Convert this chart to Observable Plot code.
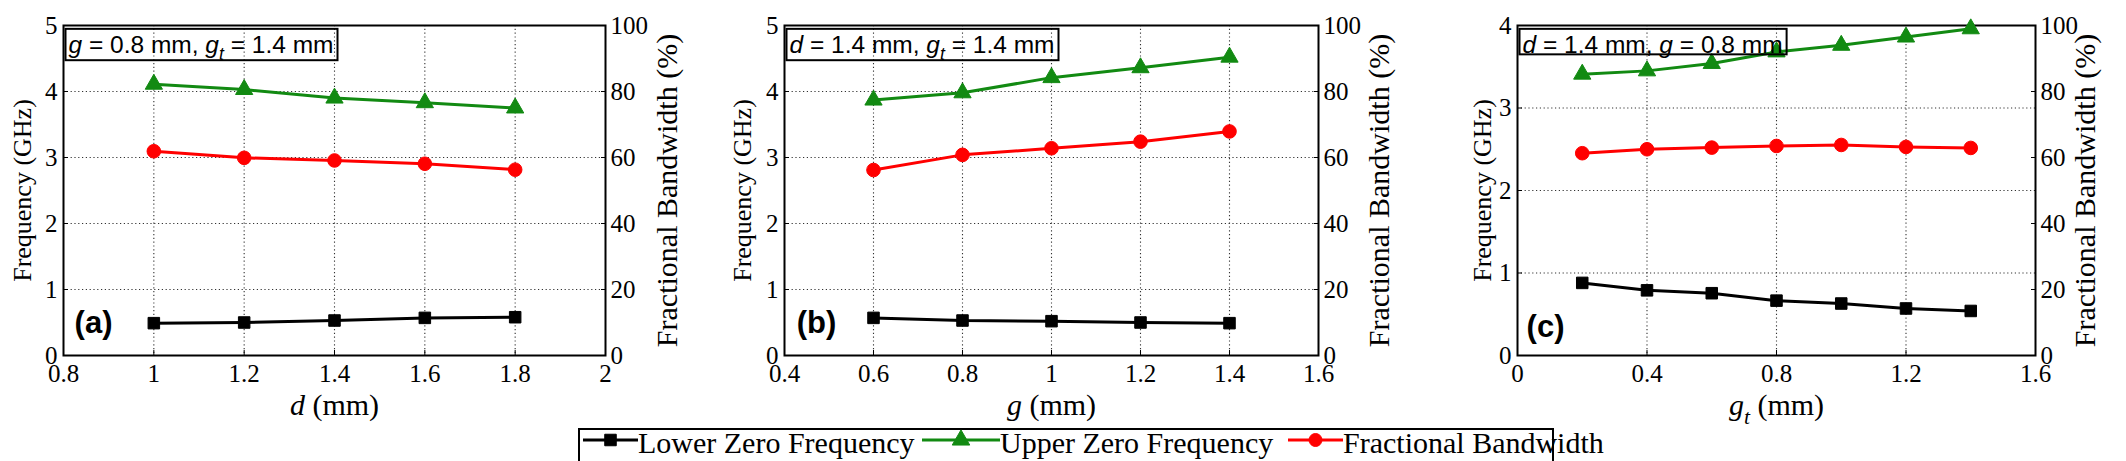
<!DOCTYPE html>
<html>
<head>
<meta charset="utf-8">
<script src="https://cdn.jsdelivr.net/npm/d3@7"></script>
<script src="https://cdn.jsdelivr.net/npm/@observablehq/plot@0.6"></script>
<style>
  html, body { margin: 0; padding: 0; background: #fff; }
  #fig { position: relative; width: 2126px; height: 461px; overflow: hidden; background: #fff; }
  #fig svg { position: absolute; top: 0; max-width: none; }
</style>
</head>
<body>
<div id="fig"></div>
<script>
// ---- Parameter sweeps: lower/upper transmission-zero frequency (GHz) and fractional bandwidth (%) ----

// (a) sweep of d, with g = 0.8 mm, gt = 1.4 mm
const dValues = [1.0, 1.2, 1.4, 1.6, 1.8];
const dLower  = [0.49, 0.50, 0.53, 0.57, 0.58];
const dUpper  = [4.11, 4.03, 3.90, 3.83, 3.75];
const dFbw    = [61.9, 59.9, 59.1, 58.1, 56.3];

// (b) sweep of g, with d = 1.4 mm, gt = 1.4 mm
const gValues = [0.6, 0.8, 1.0, 1.2, 1.4];
const gLower  = [0.57, 0.53, 0.52, 0.50, 0.49];
const gUpper  = [3.87, 3.98, 4.21, 4.36, 4.52];
const gFbw    = [56.2, 60.8, 62.8, 64.8, 67.9];

// (c) sweep of gt, with d = 1.4 mm, g = 0.8 mm
const gtValues = [0.2, 0.4, 0.6, 0.8, 1.0, 1.2, 1.4];
const gtLower  = [0.88, 0.79, 0.755, 0.665, 0.63, 0.57, 0.54];
const gtUpper  = [3.41, 3.45, 3.54, 3.68, 3.76, 3.86, 3.96];
const gtFbw    = [61.3, 62.5, 63.0, 63.5, 63.8, 63.2, 62.9];

// tick labels
const xTicksA = [0.8, 1, 1.2, 1.4, 1.6, 1.8, 2];
const xTicksB = [0.4, 0.6, 0.8, 1, 1.2, 1.4, 1.6];
const xTicksC = [0, 0.4, 0.8, 1.2, 1.6];
const freqTicks5 = [0, 1, 2, 3, 4, 5];
const freqTicks4 = [0, 1, 2, 3, 4];
const fbwTicks = [0, 20, 40, 60, 80, 100];

const seriesNames = ["Lower Zero Frequency", "Upper Zero Frequency", "Fractional Bandwidth"];
const leftTitle = "Frequency (GHz)";
const rightTitle = "Fractional Bandwidth (%)";

// ---- styling ----
const SERIF = "'Liberation Serif', 'Times New Roman', serif";
const SANS = "'Liberation Sans', Arial, sans-serif";
const BLACK = "#000000", GREEN = "#128a12", RED = "#ff0000";
const H = 428;

// segments of mixed-style text: i = italic, sub = subscript
const noteA = [{t: "g", i: 1}, {t: " = 0.8 mm, "}, {t: "g", i: 1}, {t: "t", i: 1, sub: 1}, {t: " = 1.4 mm"}];
const noteB = [{t: "d", i: 1}, {t: " = 1.4 mm, "}, {t: "g", i: 1}, {t: "t", i: 1, sub: 1}, {t: " = 1.4 mm"}];
const noteC = [{t: "d", i: 1}, {t: " = 1.4 mm, "}, {t: "g", i: 1}, {t: " = 0.8 mm"}];
const xTitleA = [{t: "d", i: 1}, {t: " (mm)"}];
const xTitleB = [{t: "g", i: 1}, {t: " (mm)"}];
const xTitleC = [{t: "g", i: 1}, {t: "t", i: 1, sub: 1}, {t: " (mm)"}];

const plain = segs => segs.map(s => s.t).join("");

// replace a plain text node with italic / subscript tspans
function applyRich(svg, segs, fontSize) {
  const el = [...svg.querySelectorAll("text")].find(t => t.textContent === plain(segs));
  if (!el) return null;
  el.textContent = "";
  const shift = fontSize * 0.28;
  let down = false;
  for (const s of segs) {
    const ts = document.createElementNS("http://www.w3.org/2000/svg", "tspan");
    ts.textContent = s.t;
    if (s.i) ts.setAttribute("font-style", "italic");
    if (s.sub) {
      ts.setAttribute("font-size", (fontSize * 0.72).toFixed(1));
      if (!down) { ts.setAttribute("dy", shift); down = true; }
    } else if (down) {
      ts.setAttribute("dy", -shift); down = false;
    }
    el.appendChild(ts);
  }
  return el;
}

const fig = document.getElementById("fig");

function panel(cfg) {
  const rows = cfg.x.map((x, i) => ({x, lower: cfg.lower[i], upper: cfg.upper[i], fbw: cfg.fbw[i]}));
  const yMax = cfg.yTicks[cfg.yTicks.length - 1];
  const pctToY = p => p * yMax / 100;   // right axis spans 0–100 % over the same height
  const fbwY = d => pctToY(d.fbw);
  const xt = cfg.xTicks;

  const svg = Plot.plot({
    width: cfg.width,
    height: H,
    marginLeft: cfg.ml,
    marginRight: cfg.mr,
    marginTop: 25,
    marginBottom: H - 355,
    style: {fontFamily: SERIF, fontSize: "25px", color: "#000", background: "#fff", overflow: "visible"},
    x: {domain: [xt[0], xt[xt.length - 1]]},
    y: {domain: [0, yMax]},
    marks: [
      Plot.gridX(xt.slice(1, -1), {stroke: "#333", strokeOpacity: 1, strokeWidth: 1.1, strokeDasharray: "1.2,2.6"}),
      Plot.gridY(cfg.yTicks.slice(1, -1), {stroke: "#333", strokeOpacity: 1, strokeWidth: 1.1, strokeDasharray: "1.2,2.6"}),
      Plot.axisX(xt, {anchor: "bottom", tickSize: -5, tickPadding: 14, label: null, fontSize: 25, tickFormat: d => String(d)}),
      Plot.axisY(cfg.yTicks, {anchor: "left", tickSize: -5, tickPadding: 11, label: null, fontSize: 25, tickFormat: d => String(d)}),
      Plot.axisY(fbwTicks.map(pctToY), {anchor: "right", tickSize: -5, tickPadding: 10, label: null, fontSize: 25,
        tickFormat: v => String(Math.round(v * 100 / yMax))}),
      Plot.frame({stroke: "#000", strokeWidth: 2}),
      // lower zero
      Plot.line(rows, {x: "x", y: "lower", stroke: BLACK, strokeWidth: 3}),
      Plot.dot(rows, {x: "x", y: "lower", symbol: "square", r: 6.5, fill: BLACK, stroke: BLACK, strokeWidth: 1}),
      // upper zero
      Plot.line(rows, {x: "x", y: "upper", stroke: GREEN, strokeWidth: 3}),
      Plot.dot(rows, {x: "x", y: "upper", symbol: "triangle", r: 6.4, fill: GREEN, stroke: GREEN, strokeWidth: 1}),
      // fractional bandwidth on the right-hand scale
      Plot.line(rows, {x: "x", y: fbwY, stroke: RED, strokeWidth: 3}),
      Plot.dot(rows, {x: "x", y: fbwY, r: 6.8, fill: RED, stroke: RED, strokeWidth: 1}),
      // axis titles
      Plot.text([leftTitle], {text: d => d, frameAnchor: "left", textAnchor: "middle", lineAnchor: "middle",
        dx: cfg.ltx, rotate: -90, fontSize: 26, fontFamily: SERIF}),
      Plot.text([rightTitle], {text: d => d, frameAnchor: "right", textAnchor: "middle", lineAnchor: "middle",
        dx: cfg.rtx, rotate: -90, fontSize: 30, fontFamily: SERIF}),
      Plot.text([plain(cfg.xTitle)], {text: d => d, frameAnchor: "bottom", textAnchor: "middle", lineAnchor: "middle",
        dy: 50, fontSize: 30, fontFamily: SERIF}),
      // parameter note and panel tag
      Plot.text([plain(cfg.note)], {text: d => d, frameAnchor: "top-left", textAnchor: "start", lineAnchor: "middle",
        dx: 5, dy: 19.5, fontSize: 24.5, fontFamily: SANS}),
      Plot.text([cfg.tag], {text: d => d, frameAnchor: "bottom-left", textAnchor: "middle", lineAnchor: "middle",
        dx: cfg.tagDx, dy: cfg.tagDy, fontSize: 31, fontWeight: "bold", fontFamily: SANS})
    ]
  });
  svg.style.left = cfg.left + "px";
  fig.appendChild(svg);

  applyRich(svg, cfg.xTitle, 30);
  const note = applyRich(svg, cfg.note, 24.5);
  if (note) {
    // outline box hugging the parameter note
    const bb = note.getBBox();
    const rect = document.createElementNS("http://www.w3.org/2000/svg", "rect");
    rect.setAttribute("x", bb.x - 3);
    rect.setAttribute("y", bb.y - 2);
    rect.setAttribute("width", bb.width + 7);
    rect.setAttribute("height", bb.height - 1.5);
    rect.setAttribute("fill", "none");
    rect.setAttribute("stroke", "#000");
    rect.setAttribute("stroke-width", 2);
    const tf = note.getAttribute("transform");
    if (tf) rect.setAttribute("transform", tf);
    note.parentNode.insertBefore(rect, note);
  }
}

panel({left: 0, width: 700, ml: 63, mr: 95, x: dValues, lower: dLower, upper: dUpper, fbw: dFbw,
  xTicks: xTicksA, yTicks: freqTicks5, xTitle: xTitleA, note: noteA, tag: "(a)", tagDx: 30, tagDy: -32, ltx: -41, rtx: 62});
panel({left: 700, width: 720, ml: 84, mr: 102, x: gValues, lower: gLower, upper: gUpper, fbw: gFbw,
  xTicks: xTicksB, yTicks: freqTicks5, xTitle: xTitleB, note: noteB, tag: "(b)", tagDx: 32, tagDy: -32, ltx: -42, rtx: 61});
panel({left: 1420, width: 706, ml: 97, mr: 91, x: gtValues, lower: gtLower, upper: gtUpper, fbw: gtFbw,
  xTicks: xTicksC, yTicks: freqTicks4, xTitle: xTitleC, note: noteC, tag: "(c)", tagDx: 28, tagDy: -28, ltx: -35, rtx: 50});

// ---- shared legend below the panels ----
const legendItems = [
  {name: seriesNames[0], color: BLACK, shape: d3.symbolSquare, x0: 5, x1: 60},
  {name: seriesNames[1], color: GREEN, shape: d3.symbolTriangle, x0: 344, x1: 422},
  {name: seriesNames[2], color: RED, shape: d3.symbolCircle, x0: 710, x1: 765}
];
const leg = d3.select(fig).append("svg")
  .attr("width", 976).attr("height", 33)
  .style("left", "578px").style("top", "428px").style("overflow", "visible");
leg.append("rect").attr("x", 1).attr("y", 1).attr("width", 974).attr("height", 44)
  .attr("fill", "none").attr("stroke", "#000").attr("stroke-width", 2);
const item = leg.selectAll("g.item").data(legendItems).join("g").attr("class", "item");
item.append("line").attr("x1", d => d.x0).attr("x2", d => d.x1).attr("y1", 12).attr("y2", 12)
  .attr("stroke", d => d.color).attr("stroke-width", 3);
item.append("path")
  .attr("d", d => d3.symbol(d.shape, Math.PI * 6.5 * 6.5)())
  .attr("transform", d => `translate(${(d.x0 + d.x1) / 2},12)`)
  .attr("fill", d => d.color).attr("stroke", d => d.color);
item.append("text").attr("x", d => d.x1).attr("y", 25)
  .attr("font-family", SERIF).attr("font-size", 30).attr("fill", "#000")
  .text(d => d.name);
</script>
</body>
</html>
